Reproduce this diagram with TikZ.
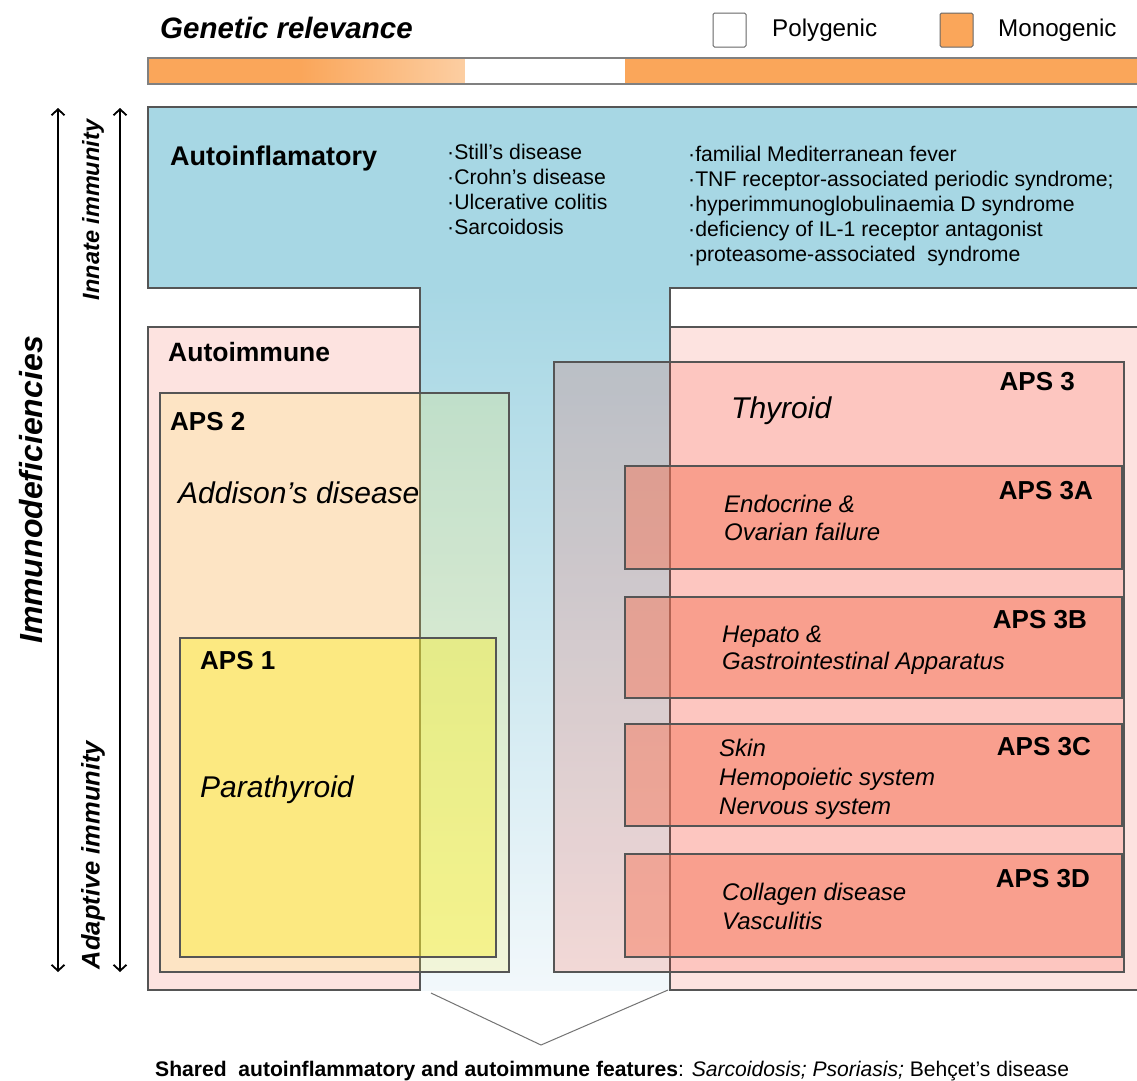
\documentclass[tikz,border=0pt]{standalone}
\usepackage{fontspec}
\setmainfont{Liberation Sans}
\usetikzlibrary{arrows.meta}
\definecolor{orng}{RGB}{250,166,90}
\definecolor{orngl}{RGB}{252,206,162}
\definecolor{blu}{RGB}{167,215,228}
\definecolor{blul}{RGB}{242,248,251}
\definecolor{pnk}{RGB}{253,227,224}
\definecolor{apstwo}{RGB}{253,237,77}
\definecolor{apsone}{RGB}{251,241,35}
\definecolor{apsthree}{RGB}{255,28,0}
\definecolor{apssub}{RGB}{247,122,93}
\definecolor{edge}{RGB}{85,85,85}
\newcommand\fsz[1]{\fontsize{#1}{#1}\selectfont}
\begin{document}
\begin{tikzpicture}[x=1pt,y=-1pt,
  box/.style={draw=edge,line width=1.2pt},
  txt/.style={inner sep=0pt,anchor=base west},
  rtxt/.style={inner sep=0pt,anchor=base east},
  blbl/.style={font=\fsz{26}\bfseries},
  bigit/.style={font=\fsz{30}\itshape},
  midit/.style={font=\fsz{24}\itshape},
  lst/.style={txt,font=\fsz{21.2}},
  dblarrow/.style={{Straight Barb[length=6pt,width=13pt]}-{Straight Barb[length=6pt,width=13pt]},line width=1.8pt,black},
  chev/.style={draw=black!55,line width=1pt}]
\useasboundingbox (0,0) rectangle (1137,1080);
\fill[white] (0,0) rectangle (1137,1080);

% header
\node[txt,font=\fsz{29.5}\bfseries\itshape] (gen) at (160,38) {Genetic relevance};
\draw[draw=black!60,line width=1pt,fill=white,rounded corners=1.5pt] (713,13) rectangle (746,47);
\node[txt,font=\fsz{24.2}] (poly) at (772,36) {Polygenic};
\draw[draw=black!60,line width=1pt,fill=orng,rounded corners=1.5pt] (940,13) rectangle (973,47);
\node[txt,font=\fsz{24.2}] (mono) at (998,36) {Monogenic};

% bar
\fill[orng] (148,58) rectangle (300,84);
\shade[left color=orng,right color=orngl] (300,58) rectangle (465,84);
\fill[white] (465,58) rectangle (625,84);
\fill[orng] (625,58) rectangle (1140,84);
\draw[draw=black!50,line width=1.2pt] (148,58) rectangle (1140,84);

% arrows
\coordinate (a1t) at (58,108); \coordinate (a1b) at (58,972);
\coordinate (a2t) at (120,108); \coordinate (a2b) at (120,972);
\draw[dblarrow] (a1t) -- (a1b);
\draw[dblarrow] (a2t) -- (a2b);
\node[rotate=90,font=\fsz{32}\bfseries\itshape] (immu) at (31,490) {Immunodeficiencies};
\node[rotate=90,font=\fsz{23.5}\bfseries\itshape] (innate) at (93,210) {Innate immunity};
\node[rotate=90,font=\fsz{25.5}\bfseries\itshape] (adapt) at (93,855) {Adaptive immunity};

% autoinflammatory T shape
\fill[blu] (148,107) rectangle (1140,288);
\shade[top color=blu,bottom color=blul] (420,288) rectangle (670,990);
\draw[box] (420,990) -- (420,288) -- (148,288) -- (148,107) -- (1140,107) -- (1140,288) -- (670,288) -- (670,990);

% autoimmune boxes
\draw[box,fill=pnk] (148,327) rectangle (420,990);
\draw[box,fill=pnk] (670,327) rectangle (1140,990);

% APS boxes
\draw[box,fill=apstwo,fill opacity=0.19] (160,393) rectangle (509,972);
\draw[box,fill=apsone,fill opacity=0.41] (180,638) rectangle (496,957);
\draw[box,fill=apsthree,fill opacity=0.14] (554,362) rectangle (1124,972);
\draw[box,fill=apssub,fill opacity=0.5] (625,466) rectangle (1122,569);
\draw[box,fill=apssub,fill opacity=0.5] (625,597) rectangle (1122,698);
\draw[box,fill=apssub,fill opacity=0.5] (625,724) rectangle (1122,826);
\draw[box,fill=apssub,fill opacity=0.5] (625,854) rectangle (1122,957);

% chevron
\coordinate (cl) at (431,993);
\coordinate (ctip) at (541,1045);
\coordinate (cr) at (668,990);
\draw[chev] (cl) -- (ctip) -- (cr);

% autoinflammatory texts
\node[txt,font=\fsz{27}\bfseries] (ainf) at (170,165) {Autoinflamatory};
\node[lst] (l1a) at (447,159) {·Still's disease};
\node[lst] (l1b) at (447,184) {·Crohn's disease};
\node[lst] (l1c) at (447,209) {·Ulcerative colitis};
\node[lst] (l1d) at (447,234) {·Sarcoidosis};
\node[lst] (l2a) at (688,161) {·familial Mediterranean fever};
\node[lst] (l2b) at (688,186) {·TNF receptor-associated periodic syndrome;};
\node[lst] (l2c) at (688,211) {·hyperimmunoglobulinaemia D syndrome};
\node[lst] (l2d) at (688,236) {·deficiency of IL-1 receptor antagonist};
\node[lst] (l2e) at (688,261) {·proteasome-associated\ \ syndrome};

% autoimmune texts
\node[txt,font=\fsz{26.5}\bfseries] (aimm) at (168,361) {Autoimmune};
\node[txt,blbl] (aps2) at (170,430) {APS 2};
\node[txt,bigit] (addi) at (178,503) {Addison’s disease};
\node[txt,blbl] (aps1) at (200,669) {APS 1};
\node[txt,bigit] (para) at (200,797) {Parathyroid};
\node[rtxt,blbl] (aps3) at (1075,390) {APS 3};
\node[txt,bigit] (thyr) at (731,418) {Thyroid};
\node[rtxt,blbl] (aps3a) at (1093,499) {APS 3A};
\node[txt,midit] (endo) at (724,512) {Endocrine \&};
\node[txt,midit] (ovar) at (724,540) {Ovarian failure};
\node[rtxt,blbl] (aps3b) at (1087,628) {APS 3B};
\node[txt,midit] (hepa) at (722,642) {Hepato \&};
\node[txt,midit] (gast) at (722,669) {Gastrointestinal Apparatus};
\node[rtxt,blbl] (aps3c) at (1091,755) {APS 3C};
\node[txt,midit] (skin) at (719,756) {Skin};
\node[txt,midit] (hemo) at (719,785) {Hemopoietic system};
\node[txt,midit] (nerv) at (719,814) {Nervous system};
\node[rtxt,blbl] (aps3d) at (1090,887) {APS 3D};
\node[txt,midit] (coll) at (722,900) {Collagen disease};
\node[txt,midit] (vasc) at (722,929) {Vasculitis};

% bottom
\node[txt,font=\fsz{21.1}] (shared) at (155,1076) {\textbf{Shared\ \ autoinflammatory and autoimmune features}: \textit{Sarcoidosis; Psoriasis;} Behçet's disease};
\end{tikzpicture}
\end{document}
